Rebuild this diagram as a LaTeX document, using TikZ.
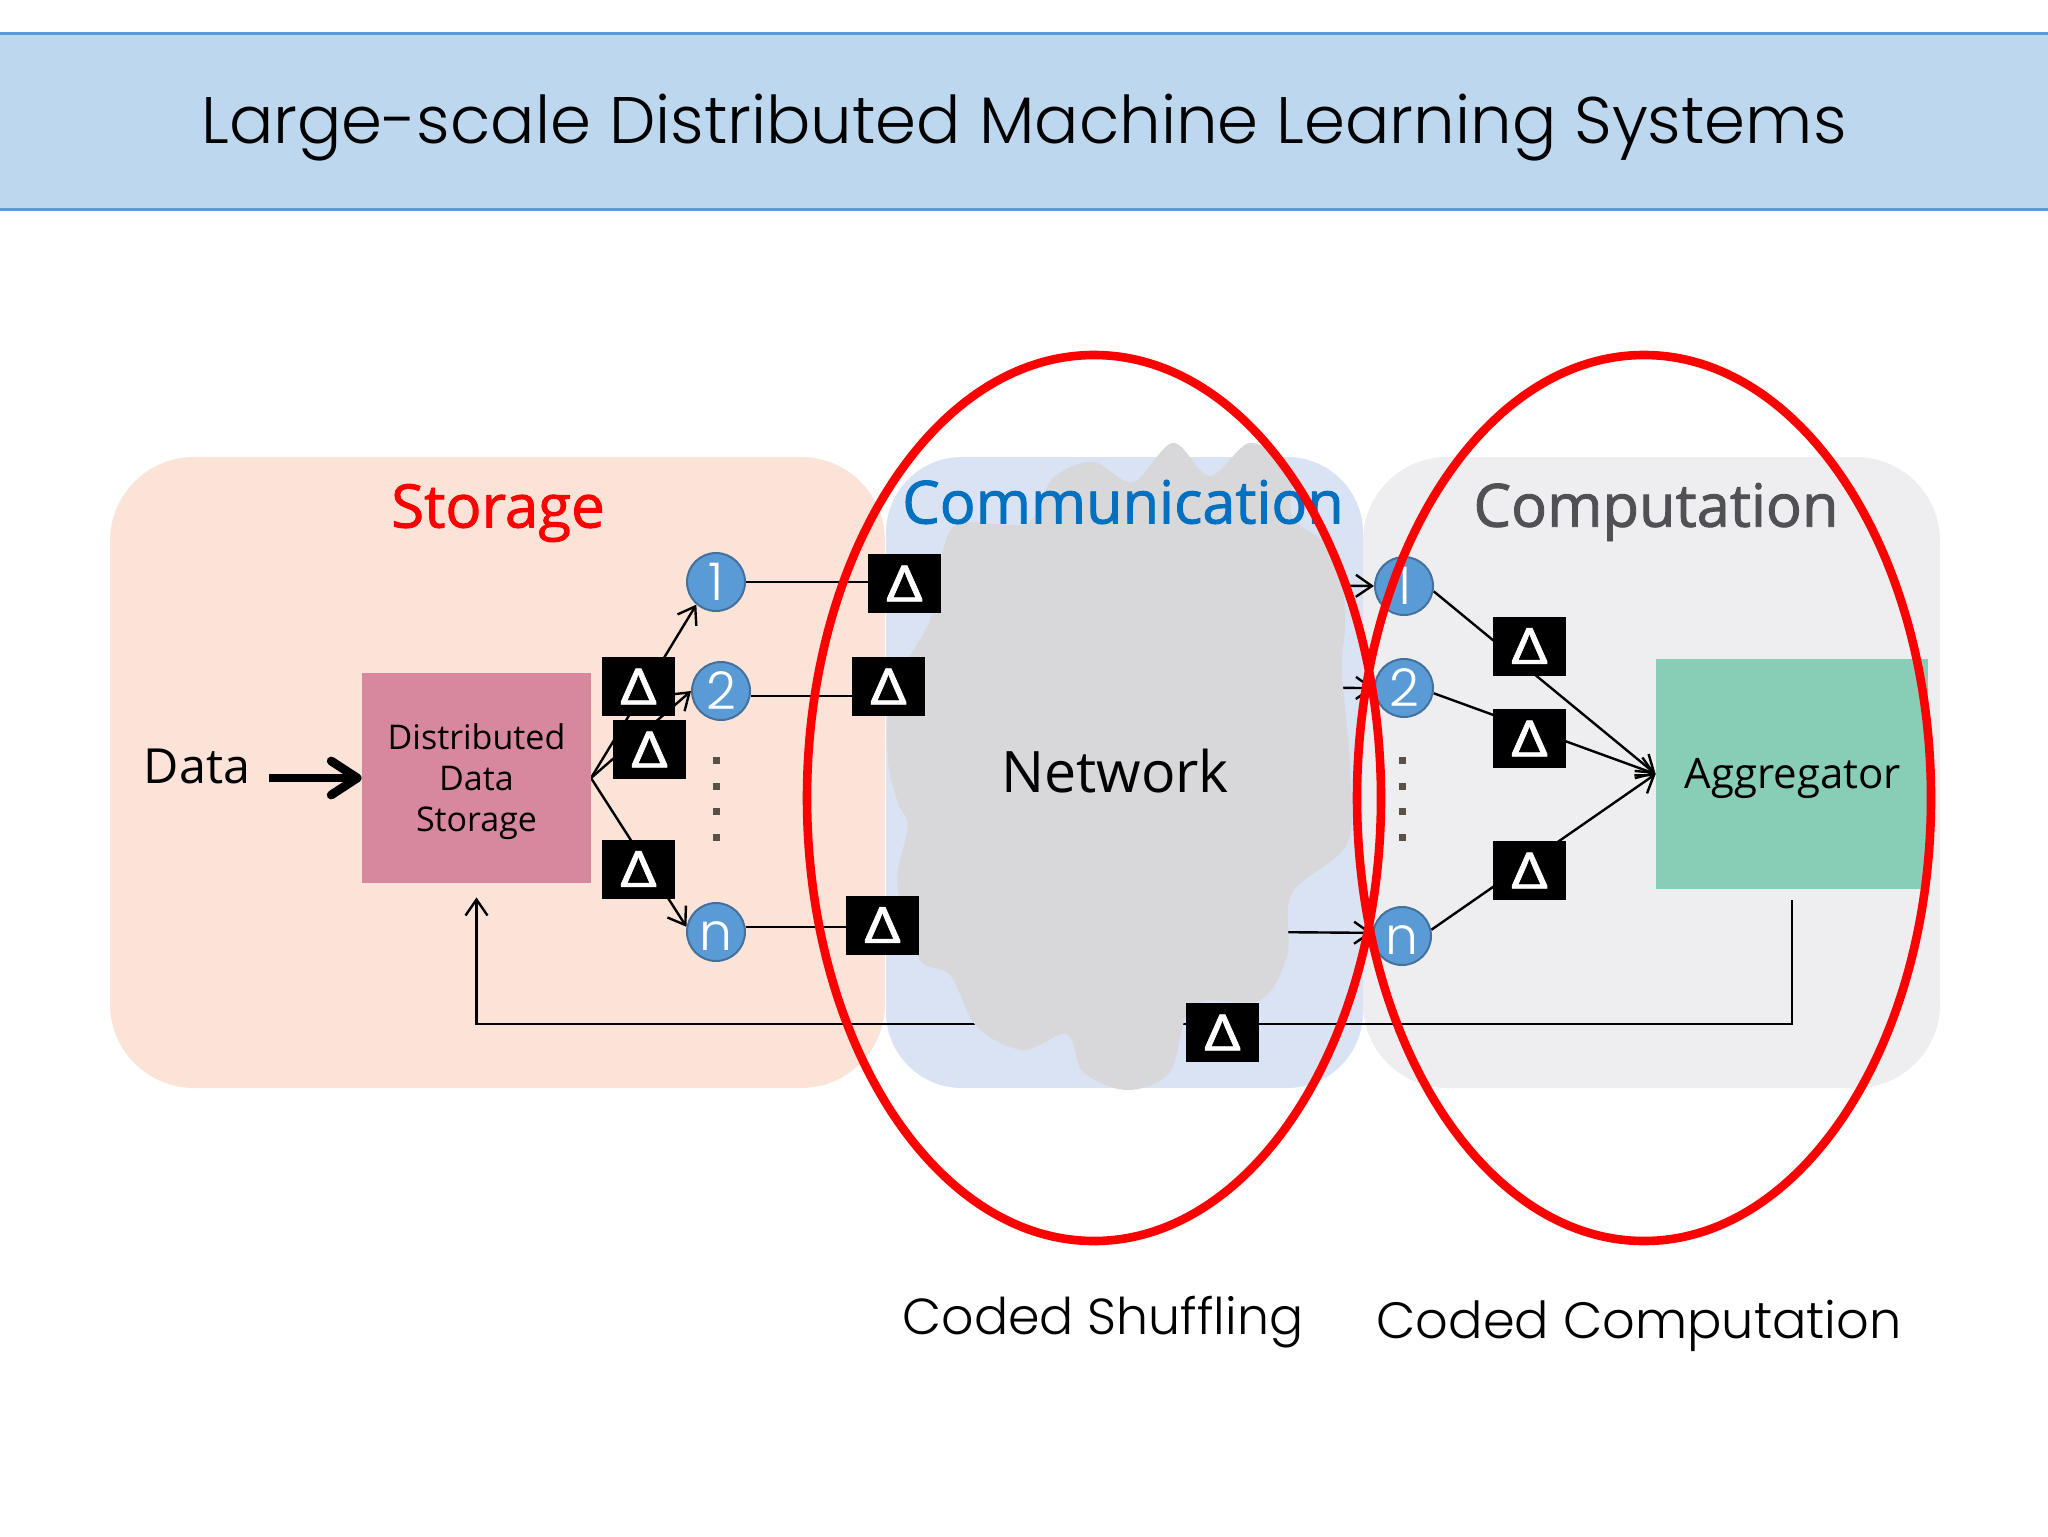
\documentclass[tikz,border=0pt]{standalone}
\usepackage{fontspec}
\usetikzlibrary{arrows.meta,shapes.geometric}
\setmainfont{Open Sans}
\newfontfamily\gothic{Poppins}[UprightFont=* Light]
\newfontfamily\headf{Open Sans}[FakeBold=1.5]
\newfontfamily\deltaf{Open Sans}[FakeBold=1.5,FakeStretch=1.3]
\definecolor{hdrfill}{HTML}{BDD7EE}
\definecolor{hdrline}{HTML}{5B9BD5}
\definecolor{storfill}{HTML}{FCE3D8}
\definecolor{commfill}{HTML}{DAE3F3}
\definecolor{compfill}{HTML}{EEEEF0}
\definecolor{cloudfill}{HTML}{D8D7D9}
\definecolor{pinkfill}{HTML}{D7889F}
\definecolor{aggfill}{HTML}{88CDB5}
\definecolor{nodeline}{HTML}{41719C}
\definecolor{dotfill}{HTML}{595048}
\definecolor{compink}{HTML}{505055}
\definecolor{comblue}{HTML}{0070C0}
\pgfdeclarelayer{back}
\pgfdeclarelayer{wires}
\pgfsetlayers{back,wires,main}
\newcommand{\lowtxt}[1]{\raisebox{-9pt}[0pt][0pt]{#1}}
\tikzset{
  wkr/.style={circle,draw=nodeline,line width=1pt,fill=hdrline,minimum size=29pt,inner sep=0pt,text=white,font=\gothic\fontsize{26}{26}\selectfont},
  delta/.style={fill=black,text=white,minimum width=36.5pt,minimum height=29.5pt,inner sep=0pt,font=\deltaf\fontsize{25}{25}\selectfont},
  dotsq/.style={fill=dotfill,minimum size=3.5pt,inner sep=0pt},
  wire/.style={draw=black,line width=1.2pt},
  arr/.style={wire,-{Straight Barb[length=8pt,width=11pt,line width=1.2pt]}},
  redring/.style={ellipse,draw=red,line width=4.3pt,inner sep=0pt,minimum width=287pt,minimum height=443pt},
}
\begin{document}
\begin{tikzpicture}[x=0.5pt,y=-0.5pt]
\useasboundingbox (0,0) rectangle (2048,1536);
% panels
\begin{pgfonlayer}{back}
\fill[white] (0,0) rectangle (2048,1536);
\fill[storfill,rounded corners=42pt] (110,457) rectangle (885,1088);
\fill[compfill,rounded corners=42pt] (1363,457) rectangle (1940,1088);
\fill[commfill,rounded corners=38pt] (886,457) rectangle (1363,1088);
\end{pgfonlayer}
% header
\node[fill=hdrfill,minimum width=1030pt,minimum height=87.5pt,inner sep=0pt] (hdr) at (1024,121.5) {};
\draw[hdrline,line width=1.5pt] (hdr.north west) -- (hdr.north east) (hdr.south west) -- (hdr.south east);
\node[font=\gothic\fontsize{32.9}{32.9}\selectfont] (title) at (1024,128) {Large-scale Distributed Machine Learning Systems};
% cloud
\fill[cloudfill] plot[smooth cycle,tension=0.55] coordinates {
 (942,554) (930,620) (892,690) (888,760) (898,803) (908,825) (898,870) (900,900) (920,960) (950,975)
 (977,1027) (1023,1050) (1067,1034) (1083,1072) (1127,1090) (1170,1072) (1193,1005) (1260,1000)
 (1287,956) (1292,893) (1347,844) (1350,768) (1342,670) (1345,621) (1337,554) (1293,518)
 (1290,470) (1250,443) (1210,476) (1173,443) (1133,482) (1093,462) (1053,478) (1027,523) (960,523)};
\node[font=\fontsize{28.6}{28.6}\selectfont] (net) at (1115,771) {Network};
% titles
\node[font=\headf\fontsize{30}{30}\selectfont,text=red] (ts) at (498,513) {Storage};
\node[font=\headf\fontsize{29.7}{29.7}\selectfont,text=comblue] (tc) at (1123,502) {Communication};
\node[font=\headf\fontsize{29.8}{29.8}\selectfont,text=compink] (tm) at (1656,512) {Computation};
% left
\node[font=\fontsize{24.2}{24.2}\selectfont] (data) at (197,766) {Data};
\node[fill=pinkfill,minimum width=114.5pt,minimum height=105pt,inner sep=0pt] (store) at (476.5,778) {};
\node[align=center,font=\fontsize{17}{20.5}\selectfont] (storetxt) at (476.5,782) {Distributed\\Data\\Storage};
\coordinate (dstart) at (269,778);
\coordinate (fan) at (591,778);
\coordinate (bus) at (1000,1024);
\coordinate (fbtop) at (1792,900);
% workers left
\node[wkr] (a1) at (716,582) {\lowtxt{1}};
\node[wkr] (a2) at (721,691) {\lowtxt{2}};
\node[wkr] (an) at (716,932) {\lowtxt{n}};
\node[dotsq] (ad1) at (716,760) {};
\node[dotsq] (ad2) at (716,786) {};
\node[dotsq] (ad3) at (716,811) {};
\node[dotsq] (ad4) at (716,837) {};
% deltas
\node[delta] (d1) at (638.5,686.5) {Δ};
\node[delta] (d2) at (649.5,749.5) {Δ};
\node[delta] (d3) at (638.5,869) {Δ};
\node[delta] (e1) at (904.5,583.5) {Δ};
\node[delta] (e2) at (888.5,686.5) {Δ};
\node[delta] (e3) at (882.5,925) {Δ};
\node[delta] (fb) at (1222.5,1032.5) {Δ};
\node[delta] (g1) at (1529.5,646) {Δ};
\node[delta] (g2) at (1529.5,738.5) {Δ};
\node[delta] (g3) at (1529.5,870.5) {Δ};
% workers right
\node[wkr] (b1) at (1404,586) {\lowtxt{1}};
\node[wkr] (b2) at (1404,688) {\lowtxt{2}};
\node[wkr] (bn) at (1402,936) {\lowtxt{n}};
\node[dotsq] (bd1) at (1402,760) {};
\node[dotsq] (bd2) at (1402,786) {};
\node[dotsq] (bd3) at (1402,811) {};
\node[dotsq] (bd4) at (1402,837) {};
\node[fill=aggfill,minimum width=136pt,minimum height=115pt,inner sep=0pt] (agg) at (1792,774) {};
\node[font=\fontsize{21}{21}\selectfont] (aggtxt) at (1793,778) {Aggregator};
% connectors
\begin{pgfonlayer}{wires}
\draw[wire,line width=4.4pt,-{Straight Barb[length=13pt,width=17pt,line width=4.4pt,round]}] (dstart) -- (store.west);
\draw[arr] (fan) -- (a1.229);
\draw[arr] (fan) -- (a2.west);
\draw[arr] (fan) -- (an.170);
\draw[wire] (a1.east) -- (a1.east -| e1.west);
\draw[wire] (a2.-10) -- (a2.-10 -| e2.west);
\draw[wire] (an.10) -- (an.10 -| e3.west);
\draw[arr] (e1.center) ++(0,-2) -- (b1.west);
\draw[arr] (e2.center) -- (b2.west);
\draw[arr] (e3.center) ++(0,4) -- (bn.174);
\draw[arr] (b1.-10) -- (agg.west);
\draw[arr] (b2.-10) -- (agg.west);
\draw[arr] (bn.12) -- (agg.west);
\draw[arr] (fbtop) -- (fbtop |- bus) -- (store.south |- bus) -- ([yshift=-7pt]store.south);
\end{pgfonlayer}
% rings
\node[redring] (r1) at (1094,798) {};
\node[redring] (r2) at (1644,798) {};
\node[font=\gothic\fontsize{25.3}{25.3}\selectfont] (cs) at (1103,1322) {Coded Shuffling};
\node[font=\gothic\fontsize{25.5}{25.5}\selectfont] (cc) at (1639,1326) {Coded Computation};
\end{tikzpicture}
\end{document}
